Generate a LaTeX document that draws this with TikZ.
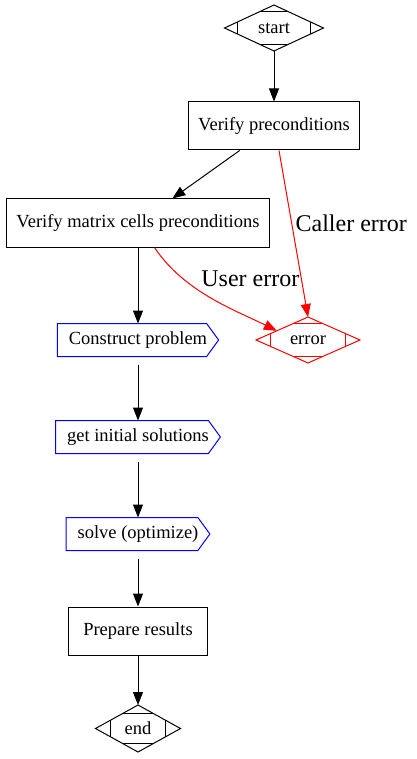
\documentclass[tikz,border=0pt]{standalone}
\usepackage{fontspec}
\setmainfont{Liberation Serif}
\usetikzlibrary{calc,arrows.meta,shapes.geometric}

% corner marks of an Mdiamond node
\newcommand{\mdmarks}[3][0.27]{%
  \draw[#3] ($(#2.north)!#1!(#2.west)$) -- ($(#2.north)!#1!(#2.east)$)
    ($(#2.south)!#1!(#2.west)$) -- ($(#2.south)!#1!(#2.east)$)
    ($(#2.west)!#1!(#2.north)$) -- ($(#2.west)!#1!(#2.south)$)
    ($(#2.east)!#1!(#2.north)$) -- ($(#2.east)!#1!(#2.south)$);}
% outline of a cds node
\newcommand{\cdsframe}[1]{%
  \draw[blue] (#1.north west) -- ([xshift=-12pt]#1.north east) -- (#1.east)
    -- ([xshift=-12pt]#1.south east) -- (#1.south west) -- cycle;}

\tikzset{
  every node/.style={font=\fontsize{18.5}{22}\selectfont},
  box/.style={draw, rectangle, inner xsep=10pt, minimum height=48pt},
  cds/.style={rectangle, inner xsep=11pt, minimum height=32pt},
  mdiam/.style={draw, diamond, aspect=2.1, inner sep=0pt, outer sep=0pt},
  flow/.style={-{Triangle[length=13pt,width=10pt]}},
  fail/.style={flow, red},
  elabel/.style={font=\fontsize{24}{28}\selectfont, black}
}

\begin{document}
\begin{tikzpicture}[x=1pt, y=-1pt, line width=1pt]
        \useasboundingbox (0,0) rectangle (416,759);

        \node[mdiam, minimum width=99pt, minimum height=46pt] (start) at (274,28) {start};
        \node[box] (vp) at (274,126) {Verify preconditions};
        \node[box] (vm) at (138,223) {Verify matrix cells preconditions};
        \node[cds] (cp) at (138,340) {Construct problem};
        \node[mdiam, draw=red, minimum width=104pt, minimum height=46pt] (err) at (308,340) {error};
        \node[cds] (gi) at (138,437) {get initial solutions};
        \node[cds] (so) at (138,534) {solve (optimize)};
        \node[box, minimum width=139pt] (pr) at (138,631) {Prepare results};
        \node[mdiam, minimum width=85pt, minimum height=47pt] (end) at (138,728.5) {end};

        \mdmarks{start}{black}
        \mdmarks{err}{red}
        \mdmarks[0.35]{end}{black}
        \cdsframe{cp}
        \cdsframe{gi}
        \cdsframe{so}

        \draw[flow] (start) -- (vp);
        \draw[flow] (vp) -- (vm);
        \draw[fail] ([xshift=5pt]vp.south) -- node[elabel, pos=0.44, right] {Caller error} (err.north);
        \draw[fail] ([xshift=16.5pt]vm.south) .. controls +(30,45) and +(-40,-20) .. node[elabel, pos=0.5, anchor=south west, inner sep=0pt, xshift=-11pt, yshift=11pt] {User error} ($(err.west)!0.4!(err.north)$);
        \draw[flow] (vm) -- (cp);
        \draw[flow, shorten <=8pt] (cp) -- (gi);
        \draw[flow, shorten <=8pt] (gi) -- (so);
        \draw[flow, shorten <=8pt] (so) -- (pr);
        \draw[flow] (pr) -- (end);
\end{tikzpicture}
\end{document}
